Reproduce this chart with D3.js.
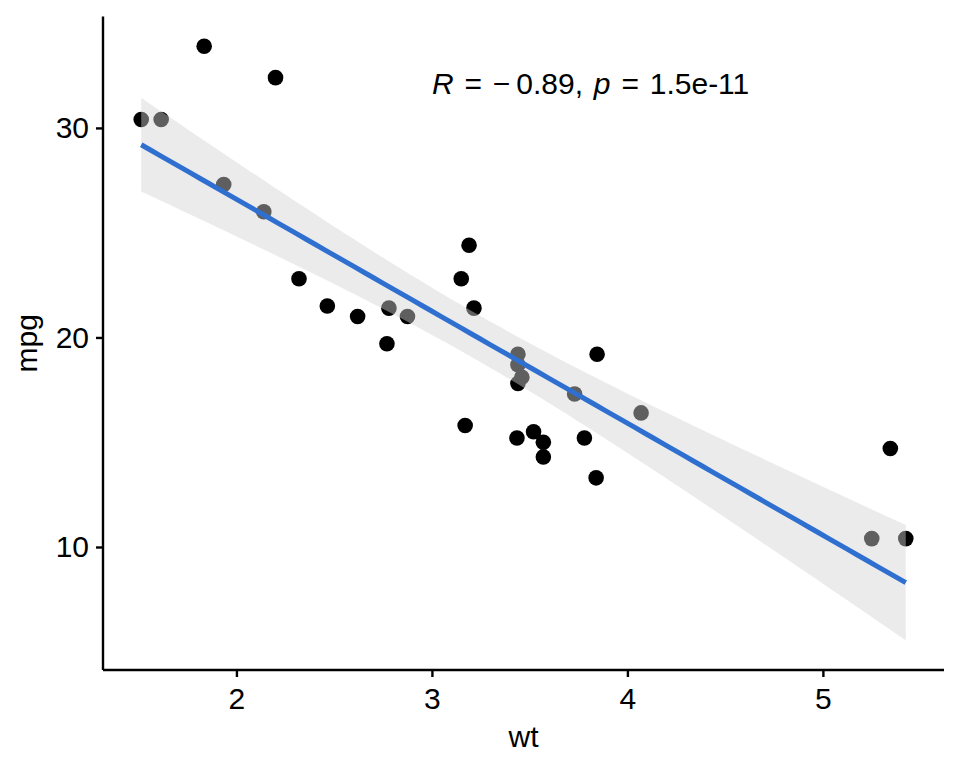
<!DOCTYPE html>
<html><head><meta charset="utf-8">
<script src="https://cdn.jsdelivr.net/npm/d3@7/dist/d3.min.js"></script>
<style>body{margin:0;background:#fff}svg{display:block}text{font-family:"Liberation Sans",Arial,Helvetica,sans-serif}</style>
</head><body><svg id="c" width="960" height="768"></svg>
<script>
const wt  = [2.620,2.875,2.320,3.215,3.440,3.460,3.570,3.190,3.150,3.440,3.440,4.070,3.730,3.780,5.250,5.424,5.345,2.200,1.615,1.835,2.465,3.520,3.435,3.840,3.845,1.935,2.140,1.513,3.170,2.770,3.570,2.780];
const mpg = [21.0,21.0,22.8,21.4,18.7,18.1,14.3,24.4,22.8,19.2,17.8,16.4,17.3,15.2,10.4,10.4,14.7,32.4,30.4,33.9,21.5,15.5,15.2,13.3,19.2,27.3,26.0,30.4,15.8,19.7,15.0,21.4];
const xTicks = [2,3,4,5];
const yTicks = [10,20,30];
const xLabel = "wt", yLabel = "mpg";
const corLabel = {R:"\u2212\u20090.89", p:"1.5e-11", x:3, y:32};

// linear fit with 95% confidence band (as geom_smooth(method="lm"))
const n = wt.length;
const mx = d3.mean(wt), my = d3.mean(mpg);
let sxx=0, sxy=0; for(let i=0;i<n;i++){sxx+=(wt[i]-mx)**2; sxy+=(wt[i]-mx)*(mpg[i]-my);}
const b = sxy/sxx, a = my - b*mx;
let sse=0; for(let i=0;i<n;i++){sse+=(mpg[i]-a-b*wt[i])**2;}
const s = Math.sqrt(sse/(n-2)), tq = 2.042272;
const [x0,x1] = d3.extent(wt);
const fit = d3.range(80).map(k=>{const x=x0+(x1-x0)*k/79; const f=a+b*x; const se=s*Math.sqrt(1/n+(x-mx)**2/sxx); return {x,f,lo:f-tq*se,hi:f+tq*se};});

const svg = d3.select("#c");
const L=103, R=944, T=16.5, B=670;
const xr=x1-x0;
const x = d3.scaleLinear().domain([x0-0.05*xr, x1+0.05*xr]).range([L,R]);
const ylo = Math.min(d3.min(mpg), d3.min(fit,d=>d.lo)), yhi = Math.max(d3.max(mpg), d3.max(fit,d=>d.hi));
const yr = yhi-ylo;
const y = d3.scaleLinear().domain([ylo-0.05*yr, yhi+0.05*yr]).range([B,T]);

// points
svg.append("g").selectAll("circle").data(wt.map((w,i)=>[w,mpg[i]])).join("circle")
  .attr("cx",d=>x(d[0])).attr("cy",d=>y(d[1])).attr("r",7.8).attr("fill","#000");
// ribbon
svg.append("path").datum(fit).attr("fill","#d3d3d3").attr("fill-opacity",0.45)
  .attr("d",d3.area().x(d=>x(d.x)).y0(d=>y(d.lo)).y1(d=>y(d.hi)));
// line
svg.append("path").datum(fit).attr("fill","none").attr("stroke","#2F6FCF").attr("stroke-width",5)
  .attr("d",d3.line().x(d=>x(d.x)).y(d=>y(d.f)));

// axes
const gx = svg.append("g").attr("transform",`translate(0,${B})`)
  .call(d3.axisBottom(x).tickValues(xTicks).tickSize(7).tickPadding(11).tickFormat(d3.format("d")));
const gy = svg.append("g").attr("transform",`translate(${L},0)`)
  .call(d3.axisLeft(y).tickValues(yTicks).tickSize(7).tickPadding(7).tickFormat(d3.format("d")));
[gx,gy].forEach(g=>{
  g.select(".domain").attr("stroke","#000").attr("stroke-width",2.4);
  g.selectAll(".tick line").attr("stroke","#000").attr("stroke-width",2.4);
  g.selectAll(".tick text").attr("fill","#000").attr("font-size",30).attr("font-family","Liberation Sans, Arial, sans-serif");
});
gx.select(".domain").attr("d",`M${L},0H${R}`);
gy.select(".domain").attr("d",`M0,${B}V${T}`);

svg.append("text").attr("x",(L+R)/2).attr("y",747).attr("text-anchor","middle").attr("font-size",30).attr("fill","#000").text(xLabel);
svg.append("text").attr("transform",`translate(36.5,${(T+B)/2}) rotate(-90)`).attr("text-anchor","middle").attr("font-size",30).attr("fill","#000").text(yLabel);

const t = svg.append("text").attr("x",x(corLabel.x)).attr("y",y(corLabel.y)+7.5).attr("font-size",30).attr("word-spacing",2.5).attr("fill","#000");
t.append("tspan").attr("font-style","italic").text("R");
t.append("tspan").text(" = " + corLabel.R + ", ");
t.append("tspan").attr("font-style","italic").text("p");
t.append("tspan").text(" = " + corLabel.p);
</script></body></html>
